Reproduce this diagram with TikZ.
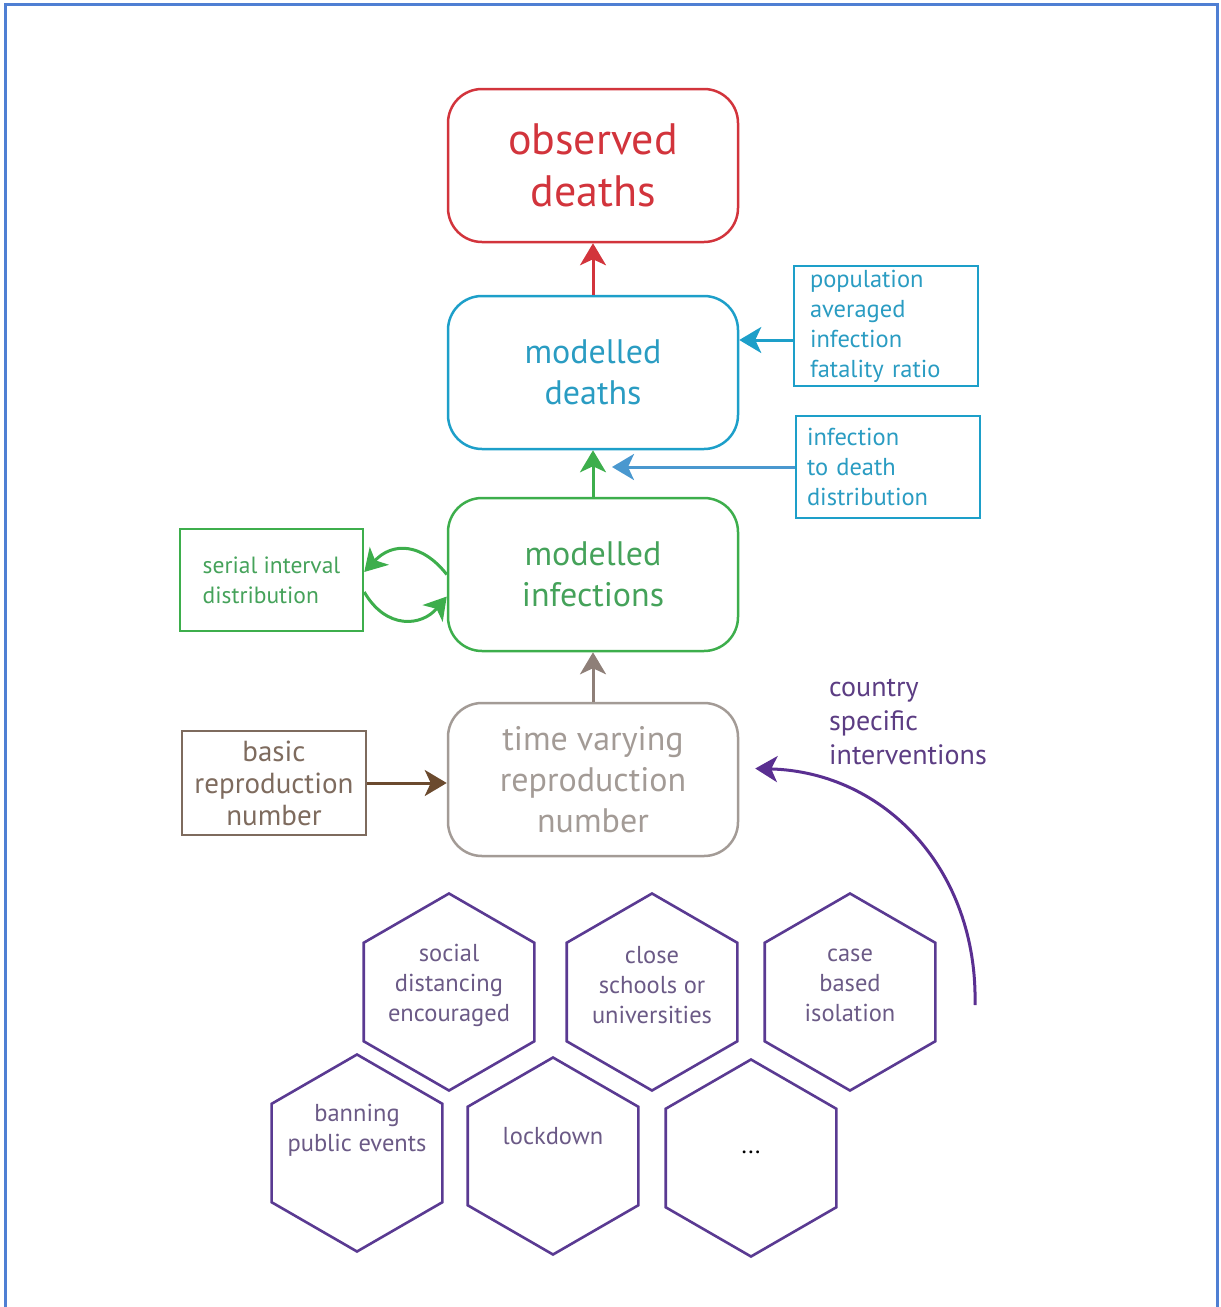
\documentclass[tikz,border=0pt]{standalone}
\usepackage{fontspec}
\setmainfont{PT Sans}
\usetikzlibrary{arrows.meta,shapes.geometric}
\definecolor{framecol}{HTML}{4F7FD3}
\definecolor{obsred}{HTML}{D2343C}
\definecolor{mdcyan}{HTML}{1D9FC9}
\definecolor{mdtext}{HTML}{2A9CC2}
\definecolor{itdblue}{HTML}{4A98CF}
\definecolor{migreen}{HTML}{3DAE4C}
\definecolor{mitext}{HTML}{45A25A}
\definecolor{tvgrey}{HTML}{A39B96}
\definecolor{tvarrow}{HTML}{8E7F78}
\definecolor{basicbrown}{HTML}{7E6B5E}
\definecolor{basicarrow}{HTML}{6B4A2E}
\definecolor{hexpurple}{HTML}{5A3A92}
\definecolor{hextextcol}{HTML}{6B5A86}
\definecolor{ivpurple}{HTML}{5A2F91}
\definecolor{ivtext}{HTML}{5C3D83}
\tikzset{
  bigbox/.style={draw, line width=2.5pt, rounded corners=34pt, minimum width=290pt,
    minimum height=153pt, inner sep=0pt, align=center, font=\fontsize{34}{41}\selectfont},
  sidebox/.style={draw, line width=2.5pt, align=left, font=\fontsize{24.5}{30}\selectfont},
  hexa/.style={draw=hexpurple, line width=2.6pt, regular polygon, regular polygon sides=6,
    shape border rotate=90, minimum size=197pt, inner sep=0pt},
  hextext/.style={text=hextextcol, align=center, font=\fontsize{24.5}{30}\selectfont},
  arr/.style={-{Stealth[length=22pt,width=26pt,inset=6pt]}, line width=3pt},
}
\begin{document}
\begin{tikzpicture}[x=1pt,y=-1pt]
    \useasboundingbox (0,0) rectangle (1221,1307);
    \draw[framecol, line width=3pt] (5.5,1320) -- (5.5,4.5) -- (1217.5,4.5) -- (1217.5,1320);
    \node[bigbox, draw=obsred, text=obsred, font=\fontsize{44}{52}\selectfont] (ob) at (593,165.5) {observed\\deaths};
    \node[bigbox, draw=mdcyan, text=mdtext] (md) at (593,372.5) {modelled\\deaths};
    \node[bigbox, draw=migreen, text=mitext] (mi) at (593,574.5) {modelled\\infections};
    \node[bigbox, draw=tvgrey, text=tvgrey] (tv) at (593,779.5) {time varying\\reproduction\\number};
    \node[sidebox, draw=mdcyan, text=mdtext, text width=152pt, inner xsep=16pt, minimum height=120pt] (ifr) at (886,326) {population\\averaged\\infection\\fatality ratio};
    \node[sidebox, draw=mdcyan, text=mdtext, text width=162pt, inner xsep=11pt, minimum height=102pt] (itd) at (888,467) {infection\\to death\\distribution};
    \node[sidebox, draw=migreen, text=mitext, font=\fontsize{23.5}{30}\selectfont, minimum width=183pt, minimum height=102pt] (serial) at (271.5,580) {serial interval\\distribution};
    \node[sidebox, draw=basicbrown, text=basicbrown, align=center, minimum width=184pt, minimum height=104pt, font=\fontsize{29}{32}\selectfont] (basic) at (274,783) {basic\\reproduction\\number};
    \node[text=ivtext, align=left, anchor=north west, inner sep=0pt, font=\fontsize{28}{34}\selectfont] (ivlabel) at (829,679) {country\\specific\\interventions};
    \foreach \x/\y/\n in {449/992/hsoc, 652/992/hsch, 850/992/hcase, 357/1153/hban, 553/1156/hlock, 751/1158/hdots}
    \node[hexa] (\n) at (\x,\y) {};
    \node[hextext] (tsoc) at (449,985) {social\\distancing\\encouraged};
    \node[hextext] (tsch) at (652,985) {close\\schools or\\universities};
    \node[hextext] (tcase) at (850,985) {case\\based\\isolation};
    \node[hextext] (tban) at (357,1130) {banning\\public events};
    \node[hextext] (tlock) at (553,1136) {lockdown};
    \node[hextext, text=black] (tdots) at (751,1152) {...};
    \coordinate (itdend) at (612,467);
    \coordinate (ivstart) at (975,1005);
    \draw[arr, obsred] (md) -- (ob);
    \draw[arr, migreen] (mi) -- (md);
    \draw[arr, tvarrow] (tv) -- (mi);
    \draw[arr, basicarrow] (basic.east) -- (basic.east -| tv.west);
    \draw[arr, mdcyan] ([yshift=-14pt]ifr.west) -- ([yshift=-14pt]ifr.west -| md.east);
    \draw[arr, itdblue] (itd.west) -- (itdend);
    \draw[arr, migreen] (mi.west) .. controls +(-25,-32) and +(28,-30) .. ([yshift=8pt]serial.east);
    \draw[arr, migreen] ([yshift=-12pt]serial.east) .. controls +(22,38) and +(-25,30) .. ([yshift=-22pt]mi.west);
    \draw[arr, ivpurple] (ivstart) .. controls (978,870) and (885,772) .. ([xshift=16pt,yshift=11pt]tv.east);
\end{tikzpicture}
\end{document}
